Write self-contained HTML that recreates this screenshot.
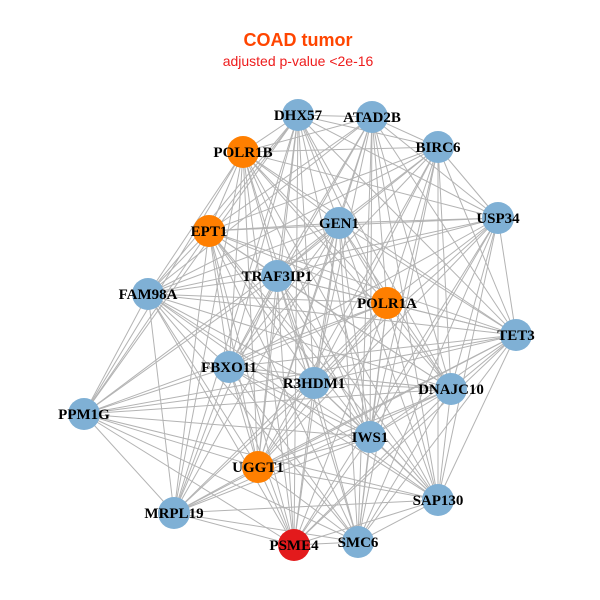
<!DOCTYPE html><html><head><style>body{margin:0;background:#fff}svg{display:block}</style></head><body>
<svg id="s" width="600" height="600" xmlns="http://www.w3.org/2000/svg">
<rect width="600" height="600" fill="#fff"/>
<text x="298" y="46" text-anchor="middle" font-family="Liberation Sans,sans-serif" font-weight="bold" font-size="18" fill="#ff4500">COAD tumor</text>
<text x="298" y="66" text-anchor="middle" font-family="Liberation Sans,sans-serif" font-size="14" fill="#ee1c1c">adjusted p-value &lt;2e-16</text>
<g id="e" stroke="#b3b3b3" stroke-width="1"></g>
<g id="n"></g>
<g font-family="Liberation Serif,serif" font-weight="bold" font-size="15" fill="#000" text-anchor="middle">
<text x="298" y="120">DHX57</text><text x="372" y="122">ATAD2B</text><text x="243" y="157">POLR1B</text>
<text x="438" y="152">BIRC6</text><text x="339" y="228">GEN1</text><text x="498" y="223">USP34</text>
<text x="209" y="236">EPT1</text><text x="277" y="281">TRAF3IP1</text><text x="148" y="299">FAM98A</text>
<text x="387" y="308">POLR1A</text><text x="516" y="340">TET3</text><text x="229" y="372">FBXO11</text>
<text x="314" y="388">R3HDM1</text><text x="451" y="394">DNAJC10</text><text x="84" y="419">PPM1G</text>
<text x="370" y="442">IWS1</text><text x="258" y="472">UGGT1</text><text x="438" y="505">SAP130</text>
<text x="174" y="518">MRPL19</text><text x="358" y="547">SMC6</text><text x="294" y="550">PSME4</text>
</g>
</svg>
<script>
var N=[[298,115,0],[372,117,0],[243,152,1],[438,147,0],[339,223,0],[498,218,0],[209,231,1],[277,276,0],[148,294,0],[387,303,1],[516,335,0],[229,367,0],[314,383,0],[451,389,0],[84,414,0],[370,437,0],[258,467,1],[438,500,0],[174,513,0],[358,542,0],[294,545,2]];
var C=["#7fb0d5","#ff7f00","#e31a1c"],ns="http://www.w3.org/2000/svg",e=document.getElementById("e"),g=document.getElementById("n");
for(var i=0;i<N.length;i++)for(var j=i+1;j<N.length;j++){var d=Math.hypot(N[i][0]-N[j][0],N[i][1]-N[j][1]);if(d>400&&(i+j)%2)continue;var l=document.createElementNS(ns,"line");l.setAttribute("x1",N[i][0]);l.setAttribute("y1",N[i][1]);l.setAttribute("x2",N[j][0]);l.setAttribute("y2",N[j][1]);e.appendChild(l);}
N.forEach(function(p){var c=document.createElementNS(ns,"circle");c.setAttribute("cx",p[0]);c.setAttribute("cy",p[1]);c.setAttribute("r",16);c.setAttribute("fill",C[p[2]]);g.appendChild(c);});
</script>
</body></html>
